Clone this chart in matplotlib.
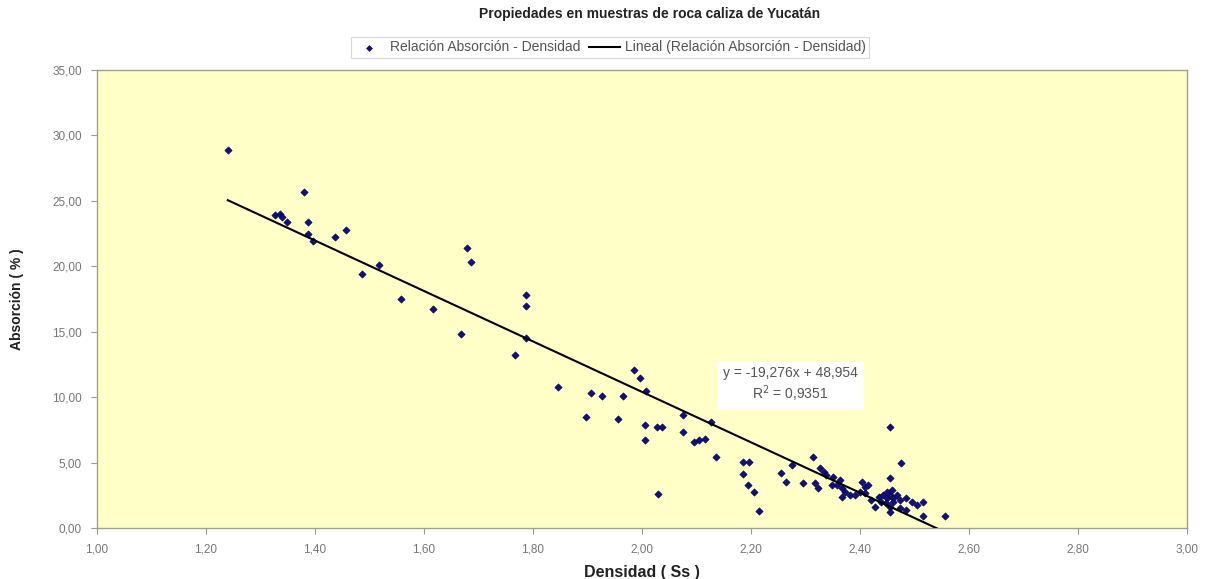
import matplotlib
matplotlib.use("Agg")
import matplotlib.pyplot as plt
import numpy as np
from matplotlib.ticker import FuncFormatter, MultipleLocator

plt.rcParams['font.family'] = ['Liberation Sans', 'DejaVu Sans']

densidad = [1.240, 1.327, 1.336, 1.339, 1.348, 1.379, 1.388, 1.388, 1.397, 1.437,
            1.457, 1.486, 1.517, 1.557, 1.617, 1.667, 1.678, 1.686, 1.767, 1.787,
            1.787, 1.787, 1.846, 1.897, 1.907, 1.927, 1.956, 1.966, 1.986, 1.996,
            2.007, 2.006, 2.006, 2.027, 2.036, 2.029, 2.076, 2.076, 2.095, 2.105,
            2.115, 2.126, 2.136, 2.185, 2.196, 2.185, 2.195, 2.206, 2.215, 2.255,
            2.265, 2.275, 2.295, 2.314, 2.317, 2.323, 2.327, 2.334, 2.338, 2.348,
            2.357, 2.363, 2.367, 2.372, 2.367, 2.382, 2.391, 2.403, 2.415, 2.400,
            2.409, 2.421, 2.427, 2.434, 2.443, 2.449, 2.455, 2.461, 2.467, 2.438,
            2.447, 2.455, 2.461, 2.455, 2.449, 2.458, 2.455, 2.475, 2.455, 2.473,
            2.485, 2.495, 2.504, 2.516, 2.473, 2.485, 2.516, 2.556, 2.410, 2.350]
absorcion = [28.90, 23.90, 24.00, 23.80, 23.40, 25.70, 23.40, 22.45, 21.90, 22.20,
             22.75, 19.40, 20.10, 17.50, 16.70, 14.80, 21.40, 20.30, 13.20, 17.80,
             17.00, 14.50, 10.80, 8.50, 10.30, 10.05, 8.35, 10.10, 12.05, 11.50,
             10.50, 7.90, 6.70, 7.70, 7.70, 2.60, 8.60, 7.33, 6.57, 6.70,
             6.82, 8.10, 5.45, 5.02, 5.04, 4.10, 3.28, 2.77, 1.30, 4.18,
             3.49, 4.79, 3.41, 5.45, 3.41, 3.03, 4.56, 4.30, 4.05, 3.28,
             3.28, 3.67, 3.03, 2.77, 2.34, 2.52, 2.52, 3.54, 3.28, 2.77,
             2.65, 2.14, 1.58, 2.39, 2.52, 2.27, 2.52, 2.27, 2.52, 2.01,
             1.89, 1.63, 2.01, 1.25, 2.77, 2.90, 7.70, 4.95, 3.84, 2.14,
             2.27, 2.01, 1.76, 2.01, 1.50, 1.37, 0.88, 0.93, 3.10, 3.90]

trend_slope = -19.276
trend_intercept = 48.954
r_squared = 0.9351

title = "Propiedades en muestras de roca caliza de Yucatán"
serie_label = "Relación Absorción - Densidad"
trend_label = "Lineal (Relación Absorción - Densidad)"
x_label = "Densidad ( Ss )"
y_label = "Absorción ( % )"

fig = plt.figure(figsize=(12.08, 5.79), dpi=100)
ax = fig.add_axes([0.0803, 0.0881, 0.9023, 0.7910])
ax.set_facecolor('#FFFFC8')

ax.scatter(densidad, absorcion, marker='D', s=14, color='#10107A',
           edgecolors='#000050', linewidths=0.4, zorder=3, label=serie_label)

xs = np.array([min(densidad), max(densidad)])
ax.plot(xs, trend_slope * xs + trend_intercept, color='black', lw=1.5,
        zorder=4, label=trend_label)

ax.set_xlim(1.0, 3.0)
ax.set_ylim(0, 35)
ax.xaxis.set_major_locator(MultipleLocator(0.2))
ax.yaxis.set_major_locator(MultipleLocator(5))
fmt = FuncFormatter(lambda v, p: f"{v:.2f}".replace('.', ','))
ax.xaxis.set_major_formatter(fmt)
ax.yaxis.set_major_formatter(fmt)
ax.tick_params(colors='#999999', labelcolor='#777777', labelsize=8.5,
               length=4, width=0.8, direction='out', pad=7)
for s in ax.spines.values():
    s.set_color('#A0A090')
    s.set_linewidth(1.0)

ax.set_xlabel(x_label, fontsize=11.5, fontweight='bold', color='#222222', labelpad=7)
ax.set_ylabel(y_label, fontsize=10, fontweight='bold', color='#222222', labelpad=20)

fig.text(0.538, 0.975, title, ha='center', va='center', fontsize=10,
         fontweight='bold', color='#222222')

leg = fig.legend(loc='center', bbox_to_anchor=(0.505, 0.918), ncol=2,
                 frameon=True, fontsize=10, handlelength=2.2,
                 columnspacing=0.6, handletextpad=0.4, borderpad=0.25,
                 fancybox=False, markerscale=0.8)
leg.get_frame().set_edgecolor('#CCCCCC')
leg.get_frame().set_linewidth(0.8)
for t in leg.get_texts():
    t.set_color('#555555')

eq = (f"y = {trend_slope:.3f}x + {trend_intercept:.3f}".replace('.', ',')
      + "\n" + f"R$^2$ = {r_squared:.4f}".replace('.', ','))
ax.text(2.272, 10.9, eq, ha='center', va='center', fontsize=10,
        color='#555555', linespacing=1.2, zorder=5,
        bbox=dict(boxstyle='square,pad=0.45', facecolor='white', edgecolor='none'))

fig.savefig('out.png', dpi=100, facecolor='white')
